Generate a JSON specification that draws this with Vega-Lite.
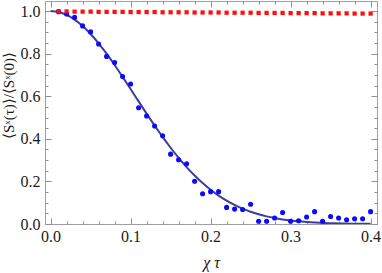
{
  "$schema": "https://vega.github.io/schema/vega-lite/v6.json",
  "width": 332,
  "height": 223,
  "autosize": {"type": "none"},
  "padding": {"left": 45, "top": 1, "right": 5, "bottom": 49},
  "background": "white",
  "config": {
    "font": "Liberation Serif",
    "view": {"stroke": "#a0a0a0", "strokeWidth": 1},
    "axis": {
      "domain": false,
      "grid": false,
      "tickColor": "#909090",
      "tickWidth": 1,
      "labelFont": "Liberation Serif",
      "labelFontSize": 16,
      "labelColor": "#1a1a1a",
      "titleFont": "Liberation Serif",
      "titleFontSize": 16,
      "titleFontWeight": "normal",
      "titleColor": "#1a1a1a"
    }
  },
  "datasets": {
    "curve": [
      {"t": 0.00, "v": 1.0}, {"t": 0.01, "v": 0.9954}, {"t": 0.02, "v": 0.9819}, {"t": 0.03, "v": 0.9597},
      {"t": 0.04, "v": 0.9296}, {"t": 0.05, "v": 0.8921}, {"t": 0.06, "v": 0.8484}, {"t": 0.07, "v": 0.7995},
      {"t": 0.08, "v": 0.7466}, {"t": 0.09, "v": 0.6909}, {"t": 0.10, "v": 0.6335}, {"t": 0.11, "v": 0.5756},
      {"t": 0.12, "v": 0.5182}, {"t": 0.13, "v": 0.4623}, {"t": 0.14, "v": 0.4087}, {"t": 0.15, "v": 0.3580},
      {"t": 0.16, "v": 0.3108}, {"t": 0.17, "v": 0.2673}, {"t": 0.18, "v": 0.2278}, {"t": 0.19, "v": 0.1924},
      {"t": 0.20, "v": 0.1610}, {"t": 0.21, "v": 0.1335}, {"t": 0.22, "v": 0.1097}, {"t": 0.23, "v": 0.0894},
      {"t": 0.24, "v": 0.0721}, {"t": 0.25, "v": 0.0577}, {"t": 0.26, "v": 0.0457}, {"t": 0.27, "v": 0.0359},
      {"t": 0.28, "v": 0.0279}, {"t": 0.29, "v": 0.0215}, {"t": 0.30, "v": 0.0164}, {"t": 0.31, "v": 0.0124},
      {"t": 0.32, "v": 0.0093}, {"t": 0.33, "v": 0.0069}, {"t": 0.34, "v": 0.0051}, {"t": 0.35, "v": 0.0037},
      {"t": 0.36, "v": 0.0027}, {"t": 0.37, "v": 0.0019}, {"t": 0.38, "v": 0.0014}, {"t": 0.39, "v": 0.0010},
      {"t": 0.40, "v": 0.0007}
    ],
    "blue": [
      {"t": 0.01, "v": 0.997}, {"t": 0.02, "v": 0.986}, {"t": 0.03, "v": 0.970}, {"t": 0.04, "v": 0.930},
      {"t": 0.05, "v": 0.902}, {"t": 0.06, "v": 0.845}, {"t": 0.07, "v": 0.787}, {"t": 0.08, "v": 0.758},
      {"t": 0.09, "v": 0.692}, {"t": 0.10, "v": 0.657}, {"t": 0.11, "v": 0.546}, {"t": 0.12, "v": 0.507},
      {"t": 0.13, "v": 0.460}, {"t": 0.14, "v": 0.414}, {"t": 0.15, "v": 0.328}, {"t": 0.16, "v": 0.302},
      {"t": 0.17, "v": 0.283}, {"t": 0.18, "v": 0.201}, {"t": 0.19, "v": 0.142}, {"t": 0.20, "v": 0.152},
      {"t": 0.21, "v": 0.152}, {"t": 0.22, "v": 0.078}, {"t": 0.23, "v": 0.070}, {"t": 0.24, "v": 0.068},
      {"t": 0.25, "v": 0.093}, {"t": 0.26, "v": 0.013}, {"t": 0.27, "v": 0.013}, {"t": 0.28, "v": 0.028},
      {"t": 0.29, "v": 0.054}, {"t": 0.30, "v": 0.013}, {"t": 0.31, "v": 0.015}, {"t": 0.32, "v": 0.033},
      {"t": 0.33, "v": 0.058}, {"t": 0.34, "v": 0.013}, {"t": 0.35, "v": 0.035}, {"t": 0.36, "v": 0.028},
      {"t": 0.37, "v": 0.020}, {"t": 0.38, "v": 0.025}, {"t": 0.39, "v": 0.025}, {"t": 0.40, "v": 0.058}
    ],
    "red": [
      {"t": 0.01, "v": 0.998}, {"t": 0.02, "v": 0.998}, {"t": 0.03, "v": 0.997}, {"t": 0.04, "v": 0.997},
      {"t": 0.05, "v": 0.997}, {"t": 0.06, "v": 0.996}, {"t": 0.07, "v": 0.996}, {"t": 0.08, "v": 0.996},
      {"t": 0.09, "v": 0.996}, {"t": 0.10, "v": 0.995}, {"t": 0.11, "v": 0.995}, {"t": 0.12, "v": 0.995},
      {"t": 0.13, "v": 0.995}, {"t": 0.14, "v": 0.994}, {"t": 0.15, "v": 0.994}, {"t": 0.16, "v": 0.994},
      {"t": 0.17, "v": 0.994}, {"t": 0.18, "v": 0.993}, {"t": 0.19, "v": 0.993}, {"t": 0.20, "v": 0.993},
      {"t": 0.21, "v": 0.993}, {"t": 0.22, "v": 0.992}, {"t": 0.23, "v": 0.992}, {"t": 0.24, "v": 0.992},
      {"t": 0.25, "v": 0.992}, {"t": 0.26, "v": 0.991}, {"t": 0.27, "v": 0.991}, {"t": 0.28, "v": 0.991},
      {"t": 0.29, "v": 0.991}, {"t": 0.30, "v": 0.990}, {"t": 0.31, "v": 0.990}, {"t": 0.32, "v": 0.990},
      {"t": 0.33, "v": 0.990}, {"t": 0.34, "v": 0.989}, {"t": 0.35, "v": 0.989}, {"t": 0.36, "v": 0.989},
      {"t": 0.37, "v": 0.989}, {"t": 0.38, "v": 0.988}, {"t": 0.39, "v": 0.988}, {"t": 0.40, "v": 0.988}
    ]
  },
  "layer": [
    {
      "data": {"name": "curve"},
      "mark": {"type": "line", "color": "#3d3d9e", "strokeWidth": 2, "interpolate": "monotone", "clip": true},
      "encoding": {
        "x": {
          "field": "t", "type": "quantitative",
          "scale": {"domain": [-0.007, 0.408], "nice": false, "zero": false},
          "axis": {
            "orient": "bottom",
            "title": "χ τ",
            "titleFontStyle": "italic",
            "titlePadding": 7,
            "values": [0, 0.02, 0.04, 0.06, 0.08, 0.1, 0.12, 0.14, 0.16, 0.18, 0.2, 0.22, 0.24, 0.26, 0.28, 0.3, 0.32, 0.34, 0.36, 0.38, 0.4],
            "labelExpr": "abs(datum.value*10 - round(datum.value*10)) < 0.001 ? format(datum.value, '.1f') : ''",
            "tickSize": {"condition": {"test": "abs(datum.value*10 - round(datum.value*10)) < 0.001", "value": -6}, "value": -3},
            "labelPadding": 10,
            "labelFlush": false,
            "labelOverlap": false
          }
        },
        "y": {
          "field": "v", "type": "quantitative",
          "scale": {"domain": [0, 1.047], "nice": false, "zero": false},
          "axis": {
            "orient": "left",
            "title": "⟨Sˣ(τ)⟩/⟨Sˣ(0)⟩",
            "titleFontSize": 15,
            "titleY": 94,
            "titleX": -29,
            "values": [0, 0.05, 0.1, 0.15, 0.2, 0.25, 0.3, 0.35, 0.4, 0.45, 0.5, 0.55, 0.6, 0.65, 0.7, 0.75, 0.8, 0.85, 0.9, 0.95, 1.0],
            "labelExpr": "abs(datum.value*5 - round(datum.value*5)) < 0.001 ? format(datum.value, '.1f') : ''",
            "tickSize": {"condition": {"test": "abs(datum.value*5 - round(datum.value*5)) < 0.001", "value": -6}, "value": -3},
            "labelPadding": 11,
            "labelFlush": false,
            "labelOverlap": false
          }
        }
      }
    },
    {
      "data": {"name": "blue"},
      "mark": {"type": "point", "shape": "circle", "filled": true, "color": "#0a0aff", "opacity": 1, "size": 26},
      "encoding": {
        "x": {
          "field": "t", "type": "quantitative",
          "axis": {
            "orient": "top", "title": null, "labels": false,
            "values": [0, 0.02, 0.04, 0.06, 0.08, 0.1, 0.12, 0.14, 0.16, 0.18, 0.2, 0.22, 0.24, 0.26, 0.28, 0.3, 0.32, 0.34, 0.36, 0.38, 0.4],
            "tickSize": {"condition": {"test": "abs(datum.value*10 - round(datum.value*10)) < 0.001", "value": -6}, "value": -3}
          }
        },
        "y": {
          "field": "v", "type": "quantitative",
          "axis": {
            "orient": "right", "title": null, "labels": false,
            "values": [0, 0.05, 0.1, 0.15, 0.2, 0.25, 0.3, 0.35, 0.4, 0.45, 0.5, 0.55, 0.6, 0.65, 0.7, 0.75, 0.8, 0.85, 0.9, 0.95, 1.0],
            "tickSize": {"condition": {"test": "abs(datum.value*5 - round(datum.value*5)) < 0.001", "value": -6}, "value": -3}
          }
        }
      }
    },
    {
      "data": {"name": "red"},
      "mark": {"type": "point", "shape": "square", "filled": true, "color": "#ff1010", "opacity": 1, "size": 18},
      "encoding": {
        "x": {"field": "t", "type": "quantitative", "axis": null},
        "y": {"field": "v", "type": "quantitative", "axis": null}
      }
    }
  ],
  "resolve": {"axis": {"x": "independent", "y": "independent"}}
}
